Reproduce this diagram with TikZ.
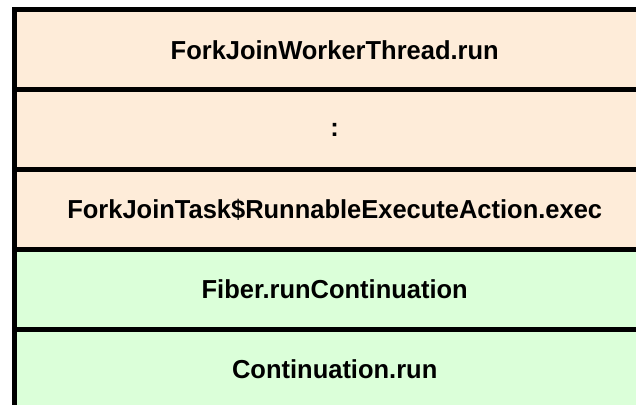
\documentclass[tikz,border=0pt]{standalone}
\usepackage{fontspec}
\setmainfont{Liberation Sans}
\newfontfamily\framefont[FakeStretch=0.98]{Liberation Sans}
\definecolor{peach}{RGB}{254,236,217}
\definecolor{mint}{RGB}{219,255,217}
\begin{document}
\begin{tikzpicture}[x=1pt,y=-1pt,
  framerow/.style={draw=black, line width=5pt, rectangle, anchor=north west,
    minimum width=640pt, minimum height=79.8pt, inner sep=0pt, outer sep=0pt},
  framelabel/.style={font=\framefont\fontsize{26}{30}\selectfont\bfseries,
    inner sep=0pt}]
  \useasboundingbox (0,0) rectangle (636,404);
  \clip (0,0) rectangle (636,404);
  % stack frames, top of the stack first
  \node[framerow, fill=peach] (r1) at (14.7,10) {};
  \node[framerow, fill=peach] (r2) at (14.7,89.8) {};
  \node[framerow, fill=peach] (r3) at (14.7,169.6) {};
  \node[framerow, fill=mint]  (r4) at (14.7,249.4) {};
  \node[framerow, fill=mint]  (r5) at (14.7,329.2) {};
  % labels centred on each frame
  \node[framelabel] (t1) at (r1.center) {ForkJoinWorkerThread.run};
  \node[framelabel] (t2) at (r2.center) {:};
  \node[framelabel] (t3) at (r3.center) {ForkJoinTask\$RunnableExecuteAction.exec};
  \node[framelabel] (t4) at (r4.center) {Fiber.runContinuation};
  \node[framelabel] (t5) at (r5.center) {Continuation.run};
\end{tikzpicture}
\end{document}
